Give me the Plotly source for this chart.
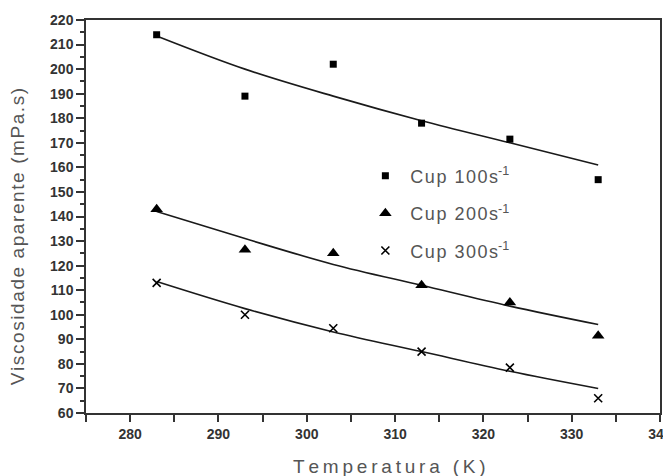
import plotly.graph_objects as go

temps = [283, 293, 303, 313, 323, 333]
cup100 = [214, 189, 202, 178, 171.5, 155]
cup200 = [143, 126.5, 125, 112, 105, 91.5]
cup300 = [113, 100, 94.5, 85, 78.5, 66]

fit100 = [213.5, 200, 189, 179, 170, 161]
fit200 = [142, 131, 120.5, 112, 103.5, 96]
fit300 = [113.5, 102.5, 93, 85, 77, 70]

series_names = ["Cup 100s", "Cup 200s", "Cup 300s"]
x_title = "Temperatura (K)"
y_title = "Viscosidade aparente (mPa.s)"

x_ticks = [280, 290, 300, 310, 320, 330, 340]
y_ticks = list(range(60, 221, 10))

HS = "\u200a"  # hair space
TS = "\u2009"  # thin space


def spaced(s, sep=HS):
    return sep.join(s)


fig = go.Figure()
for fit in (fit100, fit200, fit300):
    fig.add_trace(go.Scatter(x=temps, y=fit, mode="lines", showlegend=False,
                             line=dict(color="#1a1a1a", width=1.6, shape="spline")))

markers = [
    dict(symbol="square", size=7, color="black"),
    dict(symbol="triangle-up", size=11, color="black"),
    dict(symbol="x-thin", size=8, color="black", line=dict(width=1.6, color="black")),
]
for i, (vals, nm, mk) in enumerate(zip((cup100, cup200, cup300), series_names, markers)):
    fig.add_trace(go.Scatter(x=temps, y=vals, mode="markers",
                             name=spaced(nm) + "<sup>-1</sup>",
                             legendgroup=f"g{i}", marker=mk))

fig.add_annotation(text=spaced(x_title, TS), xref="paper", yref="paper",
                   x=0.528, y=-0.137, xanchor="center", yanchor="middle",
                   showarrow=False, font=dict(size=19, color="#555"))
fig.add_annotation(text=spaced(y_title), xref="paper", yref="paper",
                   x=-0.118, y=0.448, xanchor="center", yanchor="middle",
                   textangle=-90, showarrow=False, font=dict(size=19, color="#555"))

tickfont = dict(family="Liberation Sans", size=14, color="#333", weight=700)

# the page body adds an 8px margin, so the figure is 8px smaller in each direction
fig.update_layout(
    width=663, height=468,
    margin=dict(l=78, r=11, t=12, b=63),
    plot_bgcolor="white", paper_bgcolor="white",
    font=dict(family="Liberation Sans, Arial, sans-serif", color="#444"),
    legend=dict(x=0.478, y=0.65, xanchor="left", yanchor="top",
                bgcolor="rgba(0,0,0,0)", font=dict(size=18, color="#555"),
                tracegroupgap=11, itemwidth=40),
    xaxis=dict(range=[275, 340], tickvals=x_ticks, ticks="outside", ticklen=7,
               tickwidth=1.5, tickcolor="#333", automargin=False,
               ticklabeloverflow="allow",
               minor=dict(dtick=5, ticks="outside", ticklen=7, tickwidth=1.5, tickcolor="#333"),
               showline=True, linecolor="#333", linewidth=1.5, mirror=True,
               showgrid=False, zeroline=False, tickfont=tickfont),
    yaxis=dict(range=[60, 220], tickvals=y_ticks, ticks="outside", ticklen=8,
               tickwidth=1.5, tickcolor="#333", automargin=False,
               minor=dict(dtick=5, ticks="outside", ticklen=4, tickwidth=1.5, tickcolor="#333"),
               showline=True, linecolor="#333", linewidth=1.5, mirror=True,
               showgrid=False, zeroline=False, tickfont=tickfont),
)

fig.write_html("out.html")
